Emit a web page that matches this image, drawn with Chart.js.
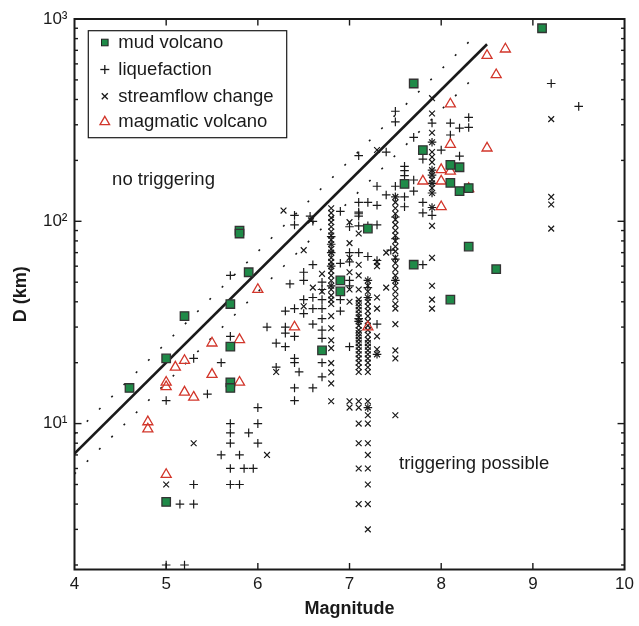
<!DOCTYPE html>
<html><head><meta charset="utf-8">
<script src="https://cdn.jsdelivr.net/npm/chart.js@4.4.1/dist/chart.umd.min.js"></script>
<style>html,body{margin:0;padding:0;background:#fff}#wrap{width:639px;height:626px}</style>
</head><body><div id="wrap"><canvas id="c" width="639" height="626"></canvas></div>
<script>
// ---- data: [magnitude, distance km] ----
const mudVolcano = [[4.6,15],[5.0,21],[5.2,34],[5.7,39],[5.9,56],[5.8,90],[5.8,87],[5.7,24],[5.7,16],[5.7,15],[5.0,4.1],[6.7,23],[6.9,51],[6.9,45],[7.2,92],[7.6,153],[7.7,61],[7.7,480],[7.8,225],[8.1,190],[8.1,155],[8.1,41],[8.2,185],[8.2,141],[8.3,146],[8.3,75],[8.6,58],[9.1,900]];
const liquefaction = [[5.0,2],[5.2,2],[5.15,4],[5.3,4],[5.3,5],[5.7,5],[5.8,5],[5.7,6],[5.85,6],[5.95,6],[5.6,7],[5.8,7],[5.7,8],[6.0,8],[5.7,9],[5.9,9],[5.7,10],[6.0,10],[6.0,12],[5.0,13],[5.45,14],
[5.3,21],[5.6,20],[5.7,27],[5.7,54],[6.1,30],
[6.2,19],[6.2,25],[6.3,24],[6.3,28],[6.3,30],[6.3,36],[6.35,49],[6.4,13],[6.4,15],[6.4,20],[6.4,21],[6.4,27],[6.4,37],[6.4,96],[6.4,107],[6.45,18],[6.5,35],[6.5,41],[6.5,51],[6.5,56],[6.57,106],[6.6,100],[6.6,61],[6.6,42],[6.6,37],[6.6,31],[6.6,15],
[6.7,50],[6.7,46],[6.7,41],[6.7,37],[6.7,33],[6.7,29],[6.7,26.4],[6.7,20],[6.7,17],
[6.8,84],[6.8,77],[6.8,70],[6.8,60],[6.8,48],
[6.9,112],[6.9,62],[6.9,41],[6.9,36],
[7.0,94],[7.0,70],[7.0,63],[7.0,51],[7.0,48],[7.0,24],
[7.1,211],[7.1,124],[7.1,111],[7.1,106],[7.1,95],[7.1,109],[7.1,70],[7.1,33],[7.1,32],
[7.2,124],[7.2,95],[7.2,67],[7.2,51],[7.2,47],[7.2,42],[7.2,12],
[7.3,149],[7.3,120],[7.3,96],[7.3,64],[7.3,31],[7.3,22],
[7.4,220],[7.4,135],[7.45,72],
[7.5,350],[7.5,310],[7.5,149],[7.5,132],[7.5,105],[7.5,82],[7.5,65],[7.5,51],
[7.6,187],[7.6,178],[7.6,168],[7.6,132],[7.6,118],
[7.7,260],[7.7,160],[7.7,141],
[7.8,203],[7.8,124],[7.8,110],[7.8,61],
[7.9,306],[7.9,246],[7.9,179],[7.9,169],[7.9,154],[7.9,138],[7.9,117],[7.9,107],
[8.0,225],[8.1,306],[8.1,267],[8.2,289],[8.2,210],[8.3,326],[8.3,291],[9.2,480],[9.5,370]];
const streamflowChange = [[5.0,5],[5.3,8],[6.1,7],[6.2,18],[6.28,113],[6.5,72],[6.5,38],[6.58,101],[6.6,47],[6.7,55],[6.7,45],
[6.8,116],[6.8,110],[6.8,104],[6.8,99],[6.8,94],[6.8,89],[6.8,85],[6.8,81],[6.8,77],[6.8,73],[6.8,70],[6.8,66],[6.8,63],[6.8,60],[6.8,57],[6.8,54],[6.8,51],[6.8,48],[6.8,46],[6.8,43],[6.8,41],[6.8,39],[6.8,34],[6.8,29.6],[6.8,25.8],[6.8,23.6],[6.8,19.9],[6.8,17.9],[6.8,15.8],[6.8,12.9],
[7.0,99],[7.0,78],[7.0,66],[7.0,56],[7.0,46],[7.0,40],[7.0,12.9],[7.0,12],
[7.1,87],[7.1,61],[7.1,54],[7.1,46],[7.1,41],[7.1,39.5],[7.1,38],[7.1,36.5],[7.1,35],[7.1,33.5],[7.1,32],[7.1,30.5],[7.1,29],[7.1,28],[7.1,27],[7.1,26],[7.1,25],[7.1,24],[7.1,23],[7.1,22],[7.1,21],[7.1,20],[7.1,19],[7.1,18],[7.1,12.9],[7.1,12],[7.1,10],[7.1,8],[7.1,6],[7.1,4],
[7.2,51],[7.2,48],[7.2,45],[7.2,42],[7.2,40],[7.2,38],[7.2,36],[7.2,34],[7.2,32],[7.2,30.5],[7.2,29],[7.2,27.5],[7.2,26],[7.2,25],[7.2,24],[7.2,23],[7.2,22],[7.2,21],[7.2,20],[7.2,19],[7.2,18],[7.2,12.9],[7.2,12],[7.2,11],[7.2,10],[7.2,8],[7.2,7],[7.2,6],[7.2,5],[7.2,4],[7.2,3],
[7.3,225],[7.3,63],[7.3,60],[7.3,42],[7.3,37],[7.3,27],[7.3,23.3],[7.3,22],
[7.4,70],[7.4,47],
[7.5,132],[7.5,124],[7.5,116],[7.5,109],[7.5,102],[7.5,96],[7.5,90],[7.5,85],[7.5,80],[7.5,75],[7.5,71],[7.5,66],[7.5,62],[7.5,58],[7.5,54],[7.5,51],[7.5,48],[7.5,45],[7.5,42],[7.5,39],[7.5,37],[7.5,31],[7.5,23],[7.5,21],[7.5,11],
[7.9,406],[7.9,341],[7.9,274],[7.9,246],[7.9,220],[7.9,208],[7.9,196],[7.9,179],[7.9,169],[7.9,161],[7.9,154],[7.9,146],[7.9,138],[7.9,117],[7.9,95],[7.9,66],[7.9,48],[7.9,41],[7.9,37],
[9.2,320],[9.2,132],[9.2,121],[9.2,92]];
const magmaticVolcano = [[4.8,10.2],[4.8,9.4],[5.0,16],[5.0,15.2],[5.0,5.6],[5.1,19],[5.2,20.5],[5.2,14.3],[5.3,13.5],[5.5,25],[5.5,17.5],[5.8,26],[5.8,16],[6.0,46],[6.4,30],[7.2,30],[7.8,158],[8.0,118],[8.0,158],[8.0,180],[8.1,177],[8.1,240],[8.1,380],[8.3,145],[8.5,230],[8.5,660],[8.6,530],[8.7,710]];
// boundary lines (endpoints)
const boundaryM = [4, 8.5];   const boundaryD = [7.1, 750];
const upperM = [4, 8.4];      const upperD = [8.9, 853];
const lowerM = [4, 8.4];      const lowerD = [5.64, 538];
// axis ticks
const xTicks = [4,5,6,7,8,9,10];
const yTicks = [10,100,1000];
const yTickLabels = ['10\u00B9','10\u00B2','10\u00B3'];
const seriesNames = ['mud volcano','liquefaction','streamflow change','magmatic volcano'];

const FONT = "'Liberation Sans', Arial, Helvetica, sans-serif";
Chart.defaults.font.family = FONT;
Chart.defaults.color = '#1a1a1a';

const toPts = arr => arr.map(p => ({x:p[0], y:p[1]}));
const toLine = (m,d) => m.map((v,i)=>({x:v, y:d[i]}));

const GREEN = '#1f8a48', RED = '#d2362b';

const frame = {
  id:'frame',
  afterDraw(chart){
    const ctx = chart.ctx, a = chart.chartArea, xs = chart.scales.x, ys = chart.scales.y;
    ctx.save();
    ctx.strokeStyle = '#1a1a1a';
    const line=(x1,y1,x2,y2)=>{ctx.beginPath();ctx.moveTo(x1,y1);ctx.lineTo(x2,y2);ctx.stroke();};
    ctx.lineWidth = 1.4;
    for (const v of xTicks){
      if (v<=xs.min || v>=xs.max) continue;
      const px = xs.getPixelForValue(v);
      line(px,a.bottom,px,a.bottom-6.5); line(px,a.top,px,a.top+6.5);
    }
    for (let e=0;e<3;e++) for (let k=1;k<10;k++){
      const v = k*Math.pow(10,e);
      if (v<ys.min || v>ys.max) continue;
      const py = ys.getPixelForValue(v);
      const len = k===1 ? 7 : 3.5;
      line(a.left,py,a.left+len,py); line(a.right,py,a.right-len,py);
    }
    ctx.lineWidth = 2;
    ctx.strokeRect(a.left,a.top,a.right-a.left,a.bottom-a.top);

    // annotations
    ctx.fillStyle = '#1a1a1a';
    ctx.font = '18.5px ' + FONT;
    ctx.textBaseline = 'middle'; ctx.textAlign = 'left';
    const ann = chart.options.plugins.frame.annotations;
    for (const t of ann){
      ctx.fillText(t.text, xs.getPixelForValue(t.m), ys.getPixelForValue(t.d));
    }

    // legend
    const L = chart.options.plugins.frame.legend;
    const lx = a.left + L.dx, ly = a.top + L.dy;
    ctx.fillStyle = '#fff';
    ctx.fillRect(lx, ly, L.w, L.h);
    ctx.lineWidth = 1.2; ctx.strokeStyle = '#1a1a1a';
    ctx.strokeRect(lx, ly, L.w, L.h);
    const mx = lx + 16.5, tx = lx + 30;
    const rows = [ly+11.8, ly+38.8, ly+65.5, ly+91.2];
    // square
    ctx.fillStyle = GREEN; ctx.strokeStyle = '#222'; ctx.lineWidth = 1;
    ctx.fillRect(mx-3.3, rows[0]-3.3, 6.6, 6.6); ctx.strokeRect(mx-3.3, rows[0]-3.3, 6.6, 6.6);
    // plus
    ctx.strokeStyle = '#1a1a1a'; ctx.lineWidth = 1.3;
    line(mx-4.5, rows[1], mx+4.5, rows[1]); line(mx, rows[1]-4.5, mx, rows[1]+4.5);
    // x
    line(mx-3, rows[2]-3, mx+3, rows[2]+3); line(mx-3, rows[2]+3, mx+3, rows[2]-3);
    // triangle
    ctx.strokeStyle = RED; ctx.lineWidth = 1.3;
    ctx.beginPath(); ctx.moveTo(mx, rows[3]-5.5); ctx.lineTo(mx+4.8, rows[3]+2.8); ctx.lineTo(mx-4.8, rows[3]+2.8); ctx.closePath(); ctx.stroke();
    ctx.fillStyle = '#1a1a1a'; ctx.font = '18.5px ' + FONT;
    seriesNames.forEach((n,i)=> ctx.fillText(n, tx, rows[i]+0.5));
    ctx.restore();
  }
};

new Chart(document.getElementById('c'), {
  type:'scatter',
  data:{ datasets:[
    {label:seriesNames[0], data:toPts(mudVolcano), pointStyle:'rect', pointRadius:6, backgroundColor:GREEN, borderColor:'#333', borderWidth:1.3},
    {label:seriesNames[3], data:toPts(magmaticVolcano), pointStyle:'triangle', pointRadius:5.8, backgroundColor:'rgba(255,255,255,0)', borderColor:RED, borderWidth:1.3},
    {label:seriesNames[1], data:toPts(liquefaction), pointStyle:'cross', pointRadius:4.3, borderColor:'#1a1a1a', backgroundColor:'#1a1a1a', borderWidth:1.2},
    {label:seriesNames[2], data:toPts(streamflowChange), pointStyle:'crossRot', pointRadius:4.1, borderColor:'#1a1a1a', backgroundColor:'#1a1a1a', borderWidth:1.2},
    {label:'boundary', data:toLine(boundaryM,boundaryD), showLine:true, pointRadius:0, borderColor:'#1a1a1a', borderWidth:2.6},
    {label:'upper', data:toLine(upperM,upperD), showLine:true, pointRadius:0, borderColor:'#1a1a1a', borderWidth:1.6, borderDash:[2,15.3]},
    {label:'lower', data:toLine(lowerM,lowerD), showLine:true, pointRadius:0, borderColor:'#1a1a1a', borderWidth:1.6, borderDash:[2,15.3]}
  ]},
  options:{
    responsive:false, animation:false, devicePixelRatio:1,
    layout:{padding:{top:19, right:10, left:0, bottom:0}},
    plugins:{
      legend:{display:false}, tooltip:{enabled:false},
      frame:{
        annotations:[{text:'no triggering', m:4.41, d:160},{text:'triggering possible', m:7.54, d:6.35}],
        legend:{dx:13.8, dy:11.7, w:198.4, h:107}
      }
    },
    scales:{
      x:{type:'linear', min:4, max:10,
        afterBuildTicks:s=>{s.ticks = xTicks.map(v=>({value:v}));},
        afterFit:s=>{s.height = 56.5;},
        grid:{display:false, drawTicks:false}, border:{display:false},
        ticks:{font:{size:17}, padding:5, color:'#1a1a1a', maxRotation:0},
        title:{display:true, text:'Magnitude', font:{size:18, weight:'bold'}, color:'#1a1a1a', padding:{top:0,bottom:6}}
      },
      y:{type:'logarithmic', min:1.9, max:1000,
        afterBuildTicks:s=>{s.ticks = yTicks.map(v=>({value:v}));},
        afterFit:s=>{s.width = 74.5;},
        grid:{display:false, drawTicks:false}, border:{display:false},
        ticks:{font:{size:17}, padding:7, color:'#1a1a1a', callback:(v)=>{const i=yTicks.indexOf(v); return i>=0?yTickLabels[i]:'';}},
        title:{display:true, text:'D (km)', font:{size:18, weight:'bold'}, color:'#1a1a1a', padding:{top:10,bottom:0}}
      }
    }
  },
  plugins:[frame]
});
</script>
</body></html>
